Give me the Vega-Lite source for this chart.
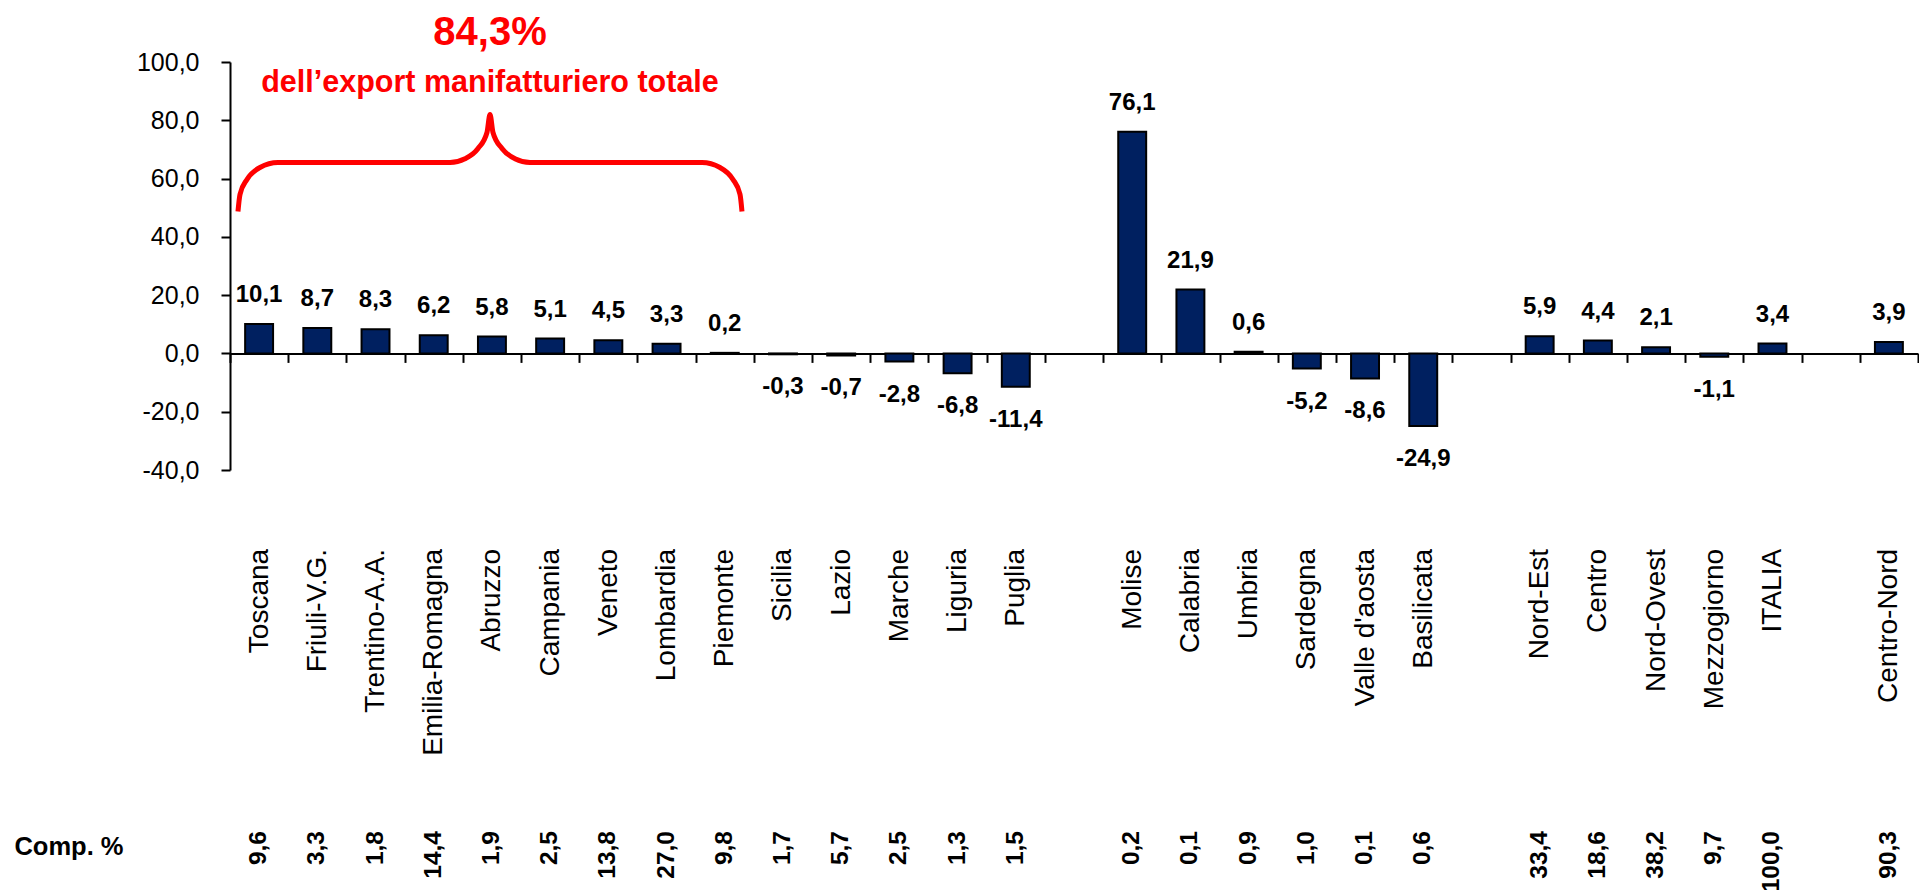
{
  "$schema": "https://vega.github.io/schema/vega-lite/v6.json",
  "padding": {"top": 13, "left": 13, "right": 0, "bottom": 0},
  "config": {
    "view": {"stroke": null},
    "locale": {"number": {"decimal": ",", "thousands": ".", "grouping": [3], "currency": ["€", ""], "minus": "-"}},
    "concat": {"spacing": 44}
  },
  "datasets": {
    "regioni": [
      {"regione": "Toscana", "var": 10.1, "comp": 9.6},
      {"regione": "Friuli-V.G.", "var": 8.7, "comp": 3.3},
      {"regione": "Trentino-A.A.", "var": 8.3, "comp": 1.8},
      {"regione": "Emilia-Romagna", "var": 6.2, "comp": 14.4},
      {"regione": "Abruzzo", "var": 5.8, "comp": 1.9},
      {"regione": "Campania", "var": 5.1, "comp": 2.5},
      {"regione": "Veneto", "var": 4.5, "comp": 13.8},
      {"regione": "Lombardia", "var": 3.3, "comp": 27.0},
      {"regione": "Piemonte", "var": 0.2, "comp": 9.8},
      {"regione": "Sicilia", "var": -0.3, "comp": 1.7},
      {"regione": "Lazio", "var": -0.7, "comp": 5.7},
      {"regione": "Marche", "var": -2.8, "comp": 2.5},
      {"regione": "Liguria", "var": -6.8, "comp": 1.3},
      {"regione": "Puglia", "var": -11.4, "comp": 1.5},
      {"regione": "Molise", "var": 76.1, "comp": 0.2},
      {"regione": "Calabria", "var": 21.9, "comp": 0.1},
      {"regione": "Umbria", "var": 0.6, "comp": 0.9},
      {"regione": "Sardegna", "var": -5.2, "comp": 1.0},
      {"regione": "Valle d'aosta", "var": -8.6, "comp": 0.1},
      {"regione": "Basilicata", "var": -24.9, "comp": 0.6},
      {"regione": "Nord-Est", "var": 5.9, "comp": 33.4},
      {"regione": "Centro", "var": 4.4, "comp": 18.6},
      {"regione": "Nord-Ovest", "var": 2.1, "comp": 38.2},
      {"regione": "Mezzogiorno", "var": -1.1, "comp": 9.7},
      {"regione": "ITALIA", "var": 3.4, "comp": 100.0},
      {"regione": "Centro-Nord", "var": 3.9, "comp": 90.3}
    ],
    "graffa": [
      {"u": 0.137, "v": 48.7, "ord": 1},
      {"u": 0.172, "v": 54.6, "ord": 2},
      {"u": 0.292, "v": 59.7, "ord": 3},
      {"u": 0.515, "v": 63.8, "ord": 4},
      {"u": 0.824, "v": 65.5, "ord": 5},
      {"u": 3.780, "v": 65.5, "ord": 6},
      {"u": 4.037, "v": 66.8, "ord": 7},
      {"u": 4.261, "v": 70.3, "ord": 8},
      {"u": 4.415, "v": 75.8, "ord": 9},
      {"u": 4.467, "v": 82.0, "ord": 10},
      {"u": 4.518, "v": 75.8, "ord": 11},
      {"u": 4.673, "v": 70.3, "ord": 12},
      {"u": 4.896, "v": 66.8, "ord": 13},
      {"u": 5.154, "v": 65.5, "ord": 14},
      {"u": 8.109, "v": 65.5, "ord": 15},
      {"u": 8.418, "v": 63.8, "ord": 16},
      {"u": 8.641, "v": 59.7, "ord": 17},
      {"u": 8.762, "v": 54.6, "ord": 18},
      {"u": 8.796, "v": 48.7, "ord": 19}
    ]
  },
  "vconcat": [
    {
      "width": 1688,
      "height": 408,
      "resolve": {"scale": {"x": "independent"}},
      "layer": [
        {
          "data": {"name": "regioni"},
          "encoding": {
            "x": {
              "field": "regione",
              "type": "nominal",
              "sort": null,
              "scale": {
                "domain": ["Toscana", "Friuli-V.G.", "Trentino-A.A.", "Emilia-Romagna", "Abruzzo", "Campania", "Veneto", "Lombardia", "Piemonte", "Sicilia", "Lazio", "Marche", "Liguria", "Puglia", " ", "Molise", "Calabria", "Umbria", "Sardegna", "Valle d'aosta", "Basilicata", "  ", "Nord-Est", "Centro", "Nord-Ovest", "Mezzogiorno", "ITALIA", "   ", "Centro-Nord"],
                "paddingInner": 0,
                "paddingOuter": 0
              },
              "axis": {
                "title": null,
                "orient": "bottom",
                "offset": -116.6,
                "tickBand": "extent",
                "domainColor": "black",
                "domainWidth": 2,
                "tickColor": "black",
                "tickWidth": 2,
                "tickSize": 9,
                "labelAngle": 270,
                "labelAlign": "right",
                "labelBaseline": "middle",
                "labelPadding": 186,
                "labelFont": "'Liberation Sans', Arial, sans-serif",
                "labelFontSize": 28,
                "labelColor": "black",
                "labelLimit": 400,
                "labelOverlap": false
              }
            },
            "y": {
              "field": "var",
              "type": "quantitative",
              "scale": {"domain": [-40, 100], "nice": false, "zero": false},
              "axis": {
                "title": null,
                "values": [-40, -20, 0, 20, 40, 60, 80, 100],
                "format": ".1f",
                "grid": false,
                "domainColor": "black",
                "domainWidth": 2,
                "tickColor": "black",
                "tickWidth": 2,
                "tickSize": 9,
                "labelPadding": 22,
                "labelFont": "'Liberation Sans', Arial, sans-serif",
                "labelFontSize": 25,
                "labelColor": "black"
              }
            }
          },
          "layer": [
            {
              "mark": {"type": "bar", "fill": "#002060", "stroke": "black", "strokeWidth": 2, "width": {"band": 0.48}}
            },
            {
              "transform": [{"filter": "datum['var'] >= 0"}],
              "mark": {"type": "text", "baseline": "alphabetic", "dy": -22, "font": "'Liberation Sans', Arial, sans-serif", "fontWeight": "bold", "fontSize": 24, "color": "black"},
              "encoding": {"text": {"field": "var", "type": "quantitative", "format": ".1f"}}
            },
            {
              "transform": [{"filter": "datum['var'] < 0"}],
              "mark": {"type": "text", "baseline": "top", "dy": 21, "font": "'Liberation Sans', Arial, sans-serif", "fontWeight": "bold", "fontSize": 24, "color": "black"},
              "encoding": {"text": {"field": "var", "type": "quantitative", "format": ".1f"}}
            }
          ]
        },
        {
          "layer": [
            {
              "data": {"name": "graffa"},
              "mark": {"type": "line", "color": "#FF0000", "strokeWidth": 5, "interpolate": "monotone"},
              "encoding": {
                "x": {"field": "u", "type": "quantitative", "scale": {"domain": [0, 29], "nice": false, "zero": false}, "axis": null},
                "y": {"field": "v", "type": "quantitative", "scale": {"domain": [-40, 100], "nice": false, "zero": false}},
                "order": {"field": "ord", "type": "quantitative"}
              }
            },
            {
              "data": {"values": [{}]},
              "mark": {"type": "text", "text": "84,3%", "color": "#FF0000", "font": "'Liberation Sans', Arial, sans-serif", "fontWeight": "bold", "fontSize": 40, "baseline": "alphabetic", "align": "center"},
              "encoding": {
                "x": {"datum": 4.467, "type": "quantitative", "scale": {"domain": [0, 29], "nice": false, "zero": false}, "axis": null},
                "y": {"datum": 105.7, "type": "quantitative", "scale": {"domain": [-40, 100], "nice": false, "zero": false}}
              }
            },
            {
              "data": {"values": [{}]},
              "mark": {"type": "text", "text": "dell’export manifatturiero totale", "color": "#FF0000", "font": "'Liberation Sans', Arial, sans-serif", "fontWeight": "bold", "fontSize": 30.5, "baseline": "alphabetic", "align": "center"},
              "encoding": {
                "x": {"datum": 4.467, "type": "quantitative", "scale": {"domain": [0, 29], "nice": false, "zero": false}, "axis": null},
                "y": {"datum": 89.6, "type": "quantitative", "scale": {"domain": [-40, 100], "nice": false, "zero": false}}
              }
            }
          ]
        }
      ]
    },
    {
      "width": 1688,
      "height": 92,
      "data": {"name": "regioni"},
      "mark": {"type": "text", "angle": 270, "align": "right", "baseline": "middle", "dx": 15, "clip": true, "font": "'Liberation Sans', Arial, sans-serif", "fontWeight": "bold", "fontSize": 24.5, "color": "black"},
      "encoding": {
        "x": {
          "field": "regione",
          "type": "nominal",
          "sort": null,
          "scale": {
            "domain": ["Toscana", "Friuli-V.G.", "Trentino-A.A.", "Emilia-Romagna", "Abruzzo", "Campania", "Veneto", "Lombardia", "Piemonte", "Sicilia", "Lazio", "Marche", "Liguria", "Puglia", " ", "Molise", "Calabria", "Umbria", "Sardegna", "Valle d'aosta", "Basilicata", "  ", "Nord-Est", "Centro", "Nord-Ovest", "Mezzogiorno", "ITALIA", "   ", "Centro-Nord"],
            "paddingInner": 0,
            "paddingOuter": 0
          },
          "axis": null
        },
        "y": {
          "datum": "Comp. %",
          "type": "nominal",
          "axis": {
            "title": null,
            "ticks": false,
            "tickSize": 0,
            "domain": false,
            "labelPadding": 107,
            "labelFont": "'Liberation Sans', Arial, sans-serif",
            "labelFontWeight": "bold",
            "labelFontSize": 25.5,
            "labelColor": "black",
            "labelLimit": 300
          }
        },
        "text": {"field": "comp", "type": "quantitative", "format": ".1f"}
      }
    }
  ]
}
